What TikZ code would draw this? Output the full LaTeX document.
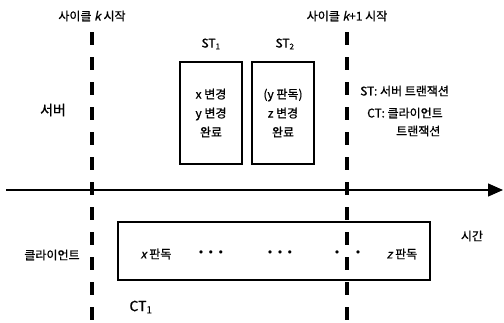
\documentclass[tikz,border=0pt]{standalone}
\usepackage{fontspec}
\setmainfont{Noto Sans CJK KR}[AutoFakeSlant=0.2, FakeBold=0.8]
\newfontfamily\symfont{DejaVu Sans}
\usetikzlibrary{arrows.meta}
\begin{document}
\begin{tikzpicture}[x=1pt,y=-1pt,
  lbl/.style={font=\fontsize{12}{14}\selectfont, inner sep=0pt},
  dline/.style={line width=3.5pt, dash pattern=on 13pt off 12pt},
  sbox/.style={draw, line width=1.3pt, minimum width=62pt, minimum height=102pt,
    align=center, inner sep=0pt, font=\fontsize{12}{19}\selectfont},
  cbox/.style={draw, line width=1.3pt, minimum width=312pt, minimum height=58pt, inner sep=0pt},
  dots/.style={font=\symfont\fontsize{11}{12}\selectfont, inner sep=0pt}]
\useasboundingbox (0,0) rectangle (504,322);
% cycle lines
\coordinate (k0top) at (92,32); \coordinate (k0bot) at (92,322);
\coordinate (k1top) at (347,32); \coordinate (k1bot) at (347,322);
\draw[dline] (k0top) -- (k0bot);
\draw[dline] (k1top) -- (k1bot);
% time axis
\coordinate (tstart) at (6,190); \coordinate (tend) at (503,190);
\draw[line width=1.3pt, -{Triangle[length=15pt,width=13pt]}] (tstart) -- (tend);
% titles
\node[lbl] (t0) at (92,16) {사이클 \textit{k} 시작};
\node[lbl] (t1) at (347,16) {사이클 \textit{k}+1 시작};
% server
\node[lbl, font=\fontsize{14}{16}\selectfont] (srv) at (53,110) {서버};
\node[lbl] (st1) at (211,44) {ST\textsubscript{1}};
\node[lbl] (st2) at (285,44) {ST\textsubscript{2}};
\node[sbox] (b1) at (211,113) {x 변경\\y 변경\\완료};
\node[sbox] (b2) at (283,113) {(y 판독)\\z 변경\\완료};
% legend
\node[lbl, anchor=west] (lg1) at (360,91) {ST: 서버 트랜잭션};
\node[lbl, anchor=west] (lg2) at (367,113) {CT: 클라이언트};
\node[lbl, anchor=west] (lg3) at (396,131) {트랜잭션};
% client
\node[lbl] (cli) at (52,255) {클라이언트};
\node[cbox] (cb) at (274,251) {};
\node[lbl] (xr) at (156,254) {\textit{x} 판독};
\node[dots] (d1) at (211,254) {• • •};
\node[dots] (d2) at (280,254) {• • •};
\node[dots] (d3) at (337,254) {•};
\node[dots] (d4) at (358,254) {•};
\node[lbl] (zr) at (402,254) {\textit{z} 판독};
\node[lbl] (time) at (472,236) {시간};
\node[lbl, font=\fontsize{14}{16}\selectfont] (ct1) at (141,307) {CT\textsubscript{1}};
\end{tikzpicture}
\end{document}
